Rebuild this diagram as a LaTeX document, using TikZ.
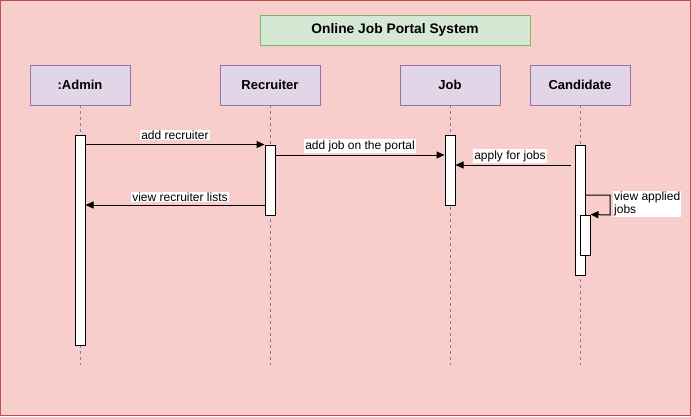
\documentclass[tikz,border=0pt]{standalone}
\usepackage{fontspec}
\setmainfont{Liberation Sans}
\usetikzlibrary{arrows.meta,calc}
\definecolor{bgfill}{HTML}{F8CECC}
\definecolor{bgdraw}{HTML}{B85450}
\definecolor{actfill}{HTML}{E1D5E7}
\definecolor{actdraw}{HTML}{9673A6}
\definecolor{titfill}{HTML}{D5E8D4}
\definecolor{titdraw}{HTML}{82B366}
\begin{document}
\begin{tikzpicture}[x=1pt,y=-1pt,
  actor/.style={draw=actdraw,fill=actfill,minimum width=100pt,minimum height=40pt,inner sep=0pt,line width=0.8pt,font=\bfseries\fontsize{13}{15}\selectfont},
  titlebox/.style={draw=titdraw,fill=titfill,minimum width=270pt,minimum height=30pt,inner sep=0pt,line width=0.8pt,font=\bfseries\fontsize{13.8}{16}\selectfont},
  life/.style={draw=actdraw,line width=0.7pt,dash pattern=on 3pt off 3pt},
  activ/.style={draw=black,fill=white,line width=1pt,minimum width=10pt,inner sep=0pt},
  msg/.style={draw=black,line width=1pt,-{Triangle[length=8pt,width=7pt]}},
  lbl/.style={fill=white,inner sep=1pt,font=\fontsize{12}{13}\selectfont}
]
\useasboundingbox (0,0) rectangle (691,416);
\draw[fill=bgfill,draw=bgdraw,line width=1pt] (0.5,0.5) rectangle (690.5,415.5);

\node[titlebox] (title) at (395,30) {Online Job Portal System};

\node[actor] (admin) at (80,85) {:Admin};
\node[actor] (recr) at (270,85) {Recruiter};
\node[actor] (job) at (450,85) {Job};
\node[actor] (cand) at (580,85) {Candidate};

\coordinate (eA) at (80,365);
\coordinate (eR) at (270,365);
\coordinate (eJ) at (450,365);
\coordinate (eC) at (580,365);
\draw[life] (admin.south) -- (eA);
\draw[life] (recr.south) -- (eR);
\draw[life] (job.south) -- (eJ);
\draw[life] (cand.south) -- (eC);

\node[activ,minimum height=210pt] (aA) at (80,240) {};
\node[activ,minimum height=70pt] (aR) at (270,180) {};
\node[activ,minimum height=70pt] (aJ) at (450,170) {};
\node[activ,minimum height=130pt] (aC) at (580,210) {};
\node[activ,minimum height=40pt] (aC2) at (585,235) {};

% add recruiter
\draw[msg] (aA.east |- aR.north) -- (aR.north west);
\node[lbl] (l1) at (175,135) {add recruiter};
% add job on the portal
\coordinate (s2) at (275,155);
\draw[msg] (aR.east |- s2) -- (aJ.west |- s2);
\node[lbl] (l2) at (360,146) {add job on the portal};
% apply for jobs
\coordinate (s3) at (571,165);
\draw[msg] (s3) -- (aJ.east |- s3);
\node[lbl] (l3) at (510,156) {apply for jobs};
% view recruiter lists
\coordinate (s4) at (265,205);
\draw[msg] (aR.west |- s4) -- (aA.east |- s4);
\node[lbl] (l4) at (180,197) {view recruiter lists};
% self message
\coordinate (s5) at (585,195);
\draw[msg] (aC.east |- s5) -- (610,195) -- (610,215) -- (aC2.north east);
\node[lbl,anchor=north west,align=left] (l5) at (613,191) {view applied\\jobs};
\end{tikzpicture}
\end{document}
